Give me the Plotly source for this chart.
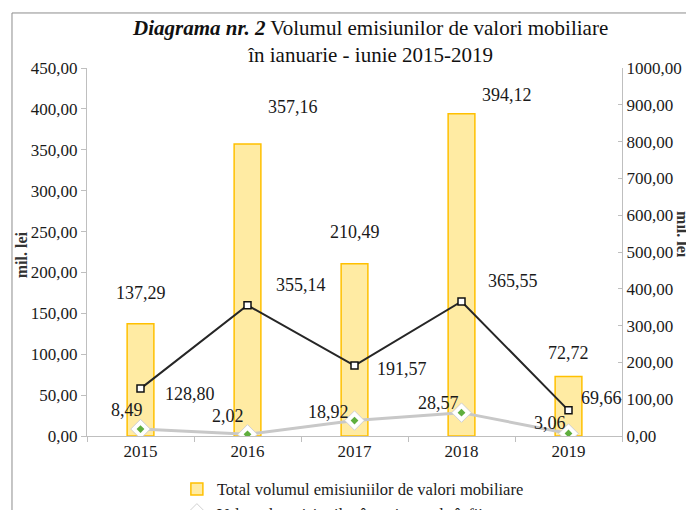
import plotly.graph_objects as go

years = ["2015", "2016", "2017", "2018", "2019"]
total_emisiuni = [137.29, 357.16, 210.49, 394.12, 72.72]
emisiuni_infiintare = [8.49, 2.02, 18.92, 28.57, 3.06]
emisiuni_suplimentare = [128.80, 355.14, 191.57, 365.55, 69.66]

left_ticks = [0, 50, 100, 150, 200, 250, 300, 350, 400, 450]
right_ticks = [0, 100, 200, 300, 400, 500, 600, 700, 800, 900, 1000]

name_total = "Total volumul emisiuniilor de valori mobiliare"
name_inf = "Volumul  emisiunilor înregistrate la înființare"
name_sup = "Volumul emisiunilor suplimentare de acțiuni"

FONT = "Liberation Serif"

def fmt(v):
    return f"{v:.2f}".replace(".", ",")

fig = go.Figure()

fig.add_trace(go.Bar(
    x=years, y=total_emisiuni, name=name_total,
    marker=dict(color="#FFEBA3", line=dict(color="#FFC000", width=1.5)),
    yaxis="y", hoverinfo="skip",
))
fig.add_trace(go.Scatter(
    x=years, y=emisiuni_infiintare, name=name_inf, mode="lines+markers",
    line=dict(color="#C8C8C8", width=3),
    marker=dict(symbol="diamond", size=15, color="white",
                line=dict(color="#D0D0D0", width=1)),
    yaxis="y",
))
fig.add_trace(go.Scatter(
    x=years, y=emisiuni_infiintare, mode="markers", showlegend=False,
    marker=dict(symbol="diamond", size=6, color="#5FAE3E"),
    yaxis="y", hoverinfo="skip",
))
fig.add_trace(go.Scatter(
    x=years, y=emisiuni_suplimentare, name=name_sup, mode="lines+markers",
    line=dict(color="#262626", width=2),
    marker=dict(symbol="square", size=7, color="white",
                line=dict(color="#111111", width=1.5)),
    yaxis="y2",
))

# label offsets (pixels) - styling
bar_off = [(0, -31), (45, -37), (0, -32), (45, -19), (0, -24)]
inf_off = [(-14, -19), (-20, -18), (-26, -9), (-23, -10), (-19, -11)]
sup_off = [(49, 5), (53, -20), (47, 3), (51, -20), (33, -12)]

ann = []
for i, yr in enumerate(years):
    ann.append(dict(x=i, y=total_emisiuni[i], xref="x", yref="y", text=fmt(total_emisiuni[i]),
                    showarrow=False, xshift=bar_off[i][0], yshift=-bar_off[i][1]))
    ann.append(dict(x=i, y=emisiuni_infiintare[i], xref="x", yref="y", text=fmt(emisiuni_infiintare[i]),
                    showarrow=False, xshift=inf_off[i][0], yshift=-inf_off[i][1]))
    ann.append(dict(x=i, y=emisiuni_suplimentare[i], xref="x", yref="y2", text=fmt(emisiuni_suplimentare[i]),
                    showarrow=False, xshift=sup_off[i][0], yshift=-sup_off[i][1]))
for a in ann:
    a["font"] = dict(family=FONT, size=18, color="#1a1a1a")
    a["xanchor"] = "center"
    a["yanchor"] = "middle"

ann.append(dict(x=-0.121, y=0.492, xref="paper", yref="paper", text="<b>mil. lei</b>",
                xanchor="center", yanchor="middle",
                textangle=-90, showarrow=False, font=dict(family=FONT, size=16, color="#333")))
ann.append(dict(x=1.114, y=0.546, xref="paper", yref="paper", text="<b>mil. lei</b>",
                xanchor="center", yanchor="middle",
                textangle=90, showarrow=False, font=dict(family=FONT, size=16, color="#333")))
ann.append(dict(x=0.529, y=1.0707, xref="paper", yref="paper", xanchor="center", yanchor="middle",
                text="<b><i>Diagrama nr. 2</i></b> Volumul emisiunilor de valori mobiliare<br>în ianuarie - iunie 2015-2019",
                showarrow=False, font=dict(family=FONT, size=21, color="#111")))

axis_col = "#BFBFBF"
fig.update_layout(
    width=694, height=510,
    margin=dict(l=79, r=80, t=60, b=82, autoexpand=False),
    paper_bgcolor="white", plot_bgcolor="white",
    separators=",.",
    font=dict(family=FONT, size=17, color="#1a1a1a"),
    bargap=0.75,
    showlegend=True,
    legend=dict(x=0.168, y=-0.097, xanchor="left", yanchor="top", orientation="v",
                font=dict(family=FONT, size=16.5, color="#1a1a1a"), bgcolor="rgba(0,0,0,0)",
                tracegroupgap=0, itemwidth=30),
    xaxis=dict(type="category", range=[-0.5, 4.5], showline=True, linecolor=axis_col, linewidth=1,
               ticks="outside", tickson="boundaries", ticklen=5, tickcolor=axis_col,
               showgrid=False, tickfont=dict(family=FONT, size=17)),
    yaxis=dict(range=[0, 450], tickvals=left_ticks, tickformat=".2f", showline=True,
               linecolor=axis_col, ticks="outside", ticklen=5, tickcolor=axis_col,
               showgrid=False, zeroline=False, tickfont=dict(family=FONT, size=17)),
    yaxis2=dict(range=[0, 1000], tickvals=right_ticks, tickformat=".2f", overlaying="y",
                side="right", showline=True, linecolor=axis_col, ticks="inside", ticklen=4,
                tickcolor=axis_col, showgrid=False, zeroline=False,
                tickfont=dict(family=FONT, size=17)),
    annotations=ann,
    shapes=[
        dict(type="line", xref="paper", yref="paper", x0=-0.1402, x1=-0.1402, y0=1.1495, y1=-0.25,
             line=dict(color="#8C8C8C", width=1)),
        dict(type="line", xref="paper", yref="paper", x0=-0.1402, x1=1.2, y0=1.1495, y1=1.1495,
             line=dict(color="#8C8C8C", width=1)),
    ],
)

fig.write_html("out.html")
